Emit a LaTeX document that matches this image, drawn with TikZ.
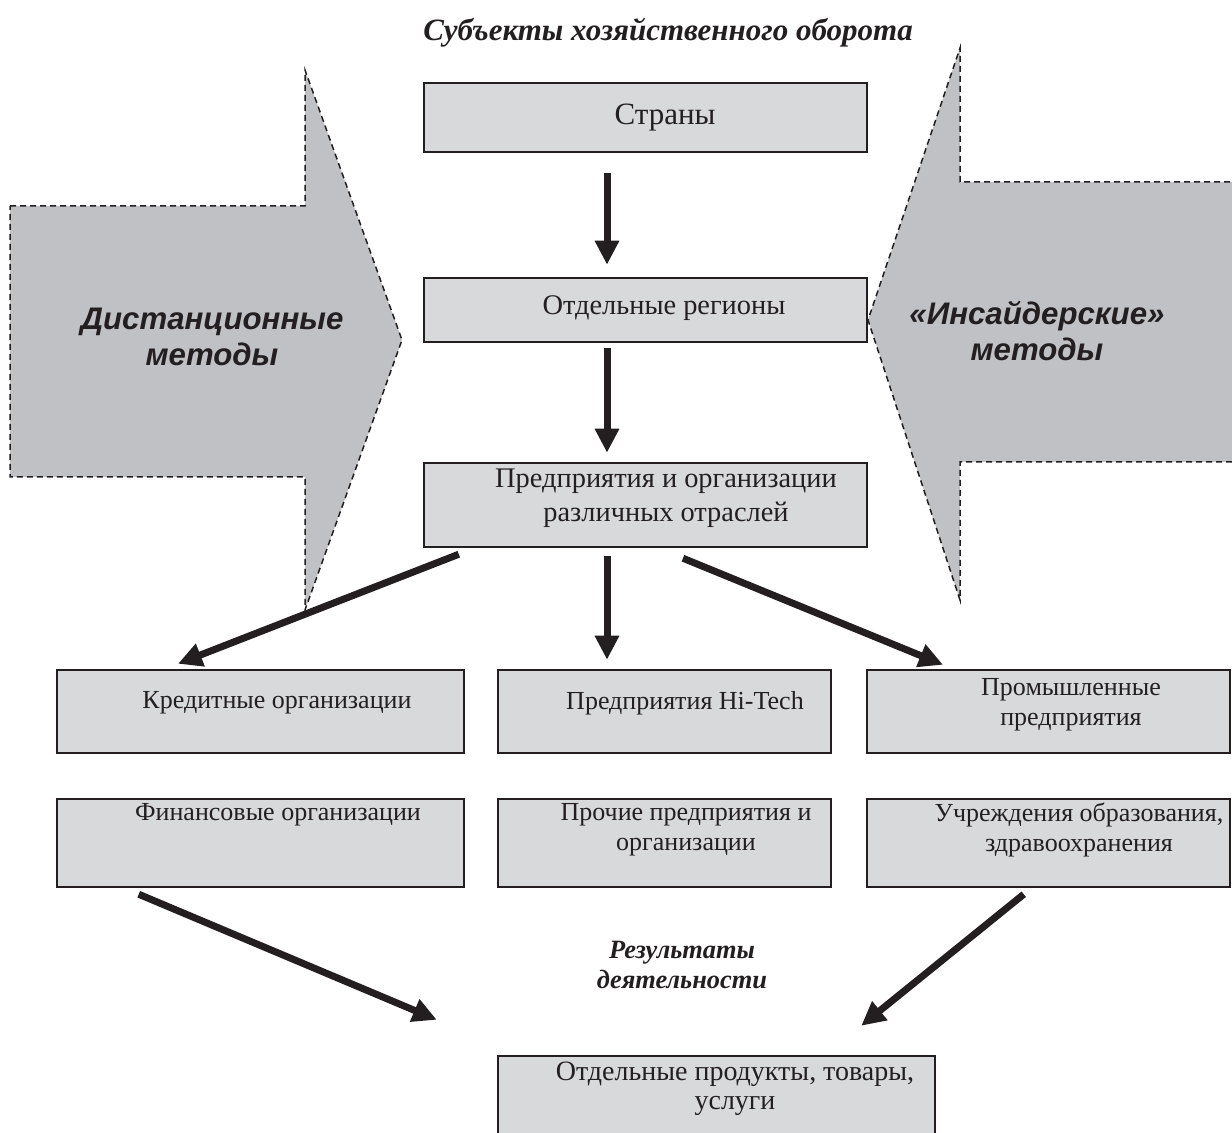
\documentclass[tikz,border=0pt]{standalone}
\usepackage{fontspec}
\setmainfont{Liberation Serif}
\newfontfamily\sansf{Liberation Sans}
\usetikzlibrary{arrows.meta,calc}
\definecolor{arrowgray}{HTML}{C0C1C4}
\definecolor{boxgray}{HTML}{D8D9DB}
\definecolor{ink}{HTML}{231F20}
\tikzset{
 box/.style={draw=ink, line width=1.25pt, fill=boxgray, inner sep=0pt},
 boxtext/.style={font=\fontsize{13}{15}\selectfont, align=center, text=ink, inner sep=0pt},
 uptext/.style={font=\fontsize{14.2}{17}\selectfont, align=center, text=ink, inner sep=0pt},
 lowtext/.style={font=\fontsize{14}{14.5}\selectfont, align=center, text=ink, inner sep=0pt},
 bigtext/.style={font=\fontsize{15.5}{18}\selectfont, align=center, text=ink, inner sep=0pt},
 bigarr/.style={draw=ink, line width=3.5pt, -{Triangle[width=11.5pt,length=12pt]}},
 blockarrow/.style={draw=ink, fill=arrowgray, line width=0.75pt, dash pattern=on 3pt off 2pt},
 methodtext/.style={font=\sansf\bfseries\itshape\fontsize{15.6}{18}\selectfont, align=center, text=ink, inner sep=0pt},
 headtext/.style={font=\bfseries\itshape\fontsize{15.5}{17}\selectfont, align=center, text=ink, inner sep=0pt},
 restext/.style={font=\bfseries\itshape\fontsize{13.2}{15}\selectfont, align=center, text=ink, inner sep=0pt},
}
\begin{document}
\begin{tikzpicture}[x=0.5pt,y=-0.5pt]
\useasboundingbox (0,0) rectangle (1232,1133);
\clip (0,0) rectangle (1232,1133);
% block arrows
\draw[blockarrow] (10,206) -- (305,206) -- (305,70) -- (402,340) -- (305,610) -- (305,477) -- (10,477) -- cycle;
\draw[blockarrow] (1240,182) -- (960,182) -- (960,48) -- (868,320) -- (960,600) -- (960,462) -- (1240,462) -- cycle;
\node[methodtext] (dm) at (212,337) {Дистанционные\\методы};
\node[methodtext] (im) at (1037,331) {«Инсайдерские»\\методы};
% title
\node[headtext] (title) at (668,33) {Субъекты хозяйственного оборота};
% boxes
\node[box, minimum width=221.5pt, minimum height=34.5pt] (s) at (645.5,117.5) {};
\node[box, minimum width=221.5pt, minimum height=32pt] (r) at (645.5,310) {};
\node[box, minimum width=221.5pt, minimum height=42pt] (p) at (645.5,505) {};
\node[box, minimum width=203.5pt, minimum height=41.5pt] (k) at (260.5,711.5) {};
\node[box, minimum width=203.5pt, minimum height=44pt] (f) at (260.5,843) {};
\node[box, minimum width=166.5pt, minimum height=41.5pt] (h) at (664.5,711.5) {};
\node[box, minimum width=166.5pt, minimum height=44pt] (o) at (664.5,843) {};
\node[box, minimum width=181.5pt, minimum height=41.5pt] (pr) at (1048.5,711.5) {};
\node[box, minimum width=181.5pt, minimum height=44pt] (u) at (1048.5,843) {};
\node[box, minimum width=218.5pt, minimum height=42pt] (res) at (716.5,1098) {};
% box texts
\node[bigtext] (st) at (665,118) {Страны};
\node[uptext] (rt) at (664,308) {Отдельные регионы};
\node[uptext] (pt) at (666,498) {Предприятия и организации\\различных отраслей};
\node[boxtext] (kt) at (277,703) {Кредитные организации};
\node[boxtext] (ht) at (685,703) {Предприятия Hi-Tech};
\node[boxtext] (prt) at (1071,705) {Промышленные\\предприятия};
\node[boxtext] (ft) at (278,815) {Финансовые организации};
\node[boxtext] (ot) at (686,830) {Прочие предприятия и\\организации};
\node[boxtext] (ut) at (1079,830) {Учреждения образования,\\здравоохранения};
\node[lowtext] (rest) at (735,1089) {Отдельные продукты, товары,\\услуги};
\node[restext] (rd) at (682,965) {Результаты\\деятельности};
% connectors
\draw[bigarr] ($(s.south)+(-38.5,20)$) -- ($(r.north)+(-38.5,-12)$);
\draw[bigarr] ($(r.south)+(-38.5,5)$) -- ($(p.north)+(-38.5,-9)$);
\draw[bigarr] ($(p.south)+(-38.5,8)$) -- ($(h.north)+(-57.5,-9)$);
\draw[bigarr] ($(p.south west)+(36,6)$) -- ($(k.north)+(-82.5,-5)$);
\draw[bigarr] ($(p.south)+(37.5,10)$) -- ($(pr.north)+(-105.5,-4)$);
\draw[bigarr] ($(f.south west)+(83,6)$) -- ($(res.north west)+(-60,-35)$);
\draw[bigarr] ($(u.south west)+(158,6)$) -- ($(res.north east)+(-75,-29)$);
\end{tikzpicture}
\end{document}
